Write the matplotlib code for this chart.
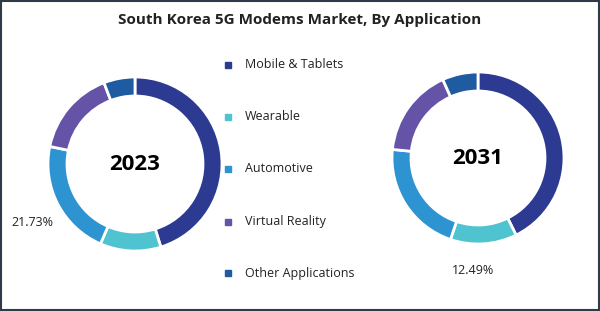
import matplotlib.pyplot as plt
from matplotlib.patches import Rectangle

# data
categories = ['Mobile & Tablets', 'Wearable', 'Automotive', 'Virtual Reality', 'Other Applications']
share_2023 = [45.2, 11.3, 21.73, 15.97, 5.8]
share_2031 = [42.7, 12.49, 21.4, 16.7, 6.71]
colors = ['#2c3a92', '#4fc3cf', '#2d93d1', '#6453a6', '#1f5ba1']

W, H = 600, 311
fig = plt.figure(figsize=(6, 3.11), dpi=100)
ax = fig.add_axes([0, 0, 1, 1])
ax.set_xlim(0, W)
ax.set_ylim(0, H)
ax.set_aspect('equal')
ax.axis('off')

def py(y):
    # pixel row from top -> data y
    return H - y

wp = dict(width=19, edgecolor='white', linewidth=2)
ax.pie(share_2023, colors=colors, startangle=90, counterclock=False,
       center=(135, py(164)), radius=87, wedgeprops=wp, frame=True)
ax.pie(share_2031, colors=colors, startangle=90, counterclock=False,
       center=(478, py(158)), radius=86, wedgeprops=wp, frame=True)
ax.set_xlim(0, W)
ax.set_ylim(0, H)
ax.axis('off')

font = 'Open Sans'
ax.text(135, py(164), '2023', ha='center', va='center', fontsize=16,
        fontweight='bold', family=font)
ax.text(478, py(158), '2031', ha='center', va='center', fontsize=16,
        fontweight='bold', family=font)
ax.text(32, py(222), f'{share_2023[2]:.2f}%', ha='center', va='center',
        fontsize=9, family=font, color='#222222')
ax.text(473, py(270), f'{share_2031[1]:.2f}%', ha='center', va='center',
        fontsize=9, family=font, color='#222222')

ax.text(W / 2, py(20), 'South Korea 5G Modems Market, By Application',
        ha='center', va='center', fontsize=11, fontweight='bold',
        family=font, color='#222222')

# legend
leg_y = [65, 117, 169, 222, 273]
for name, c, y in zip(categories, colors, leg_y):
    ax.add_patch(Rectangle((225, py(y) - 3), 6, 6, color=c))
    ax.text(245, py(y), name, ha='left', va='center', fontsize=9,
            family=font, color='#222222')

ax.add_patch(Rectangle((1, 1), W - 2, H - 2, fill=False,
                       edgecolor='#2f3b48', linewidth=1.5))

fig.savefig('out.png', dpi=100)
